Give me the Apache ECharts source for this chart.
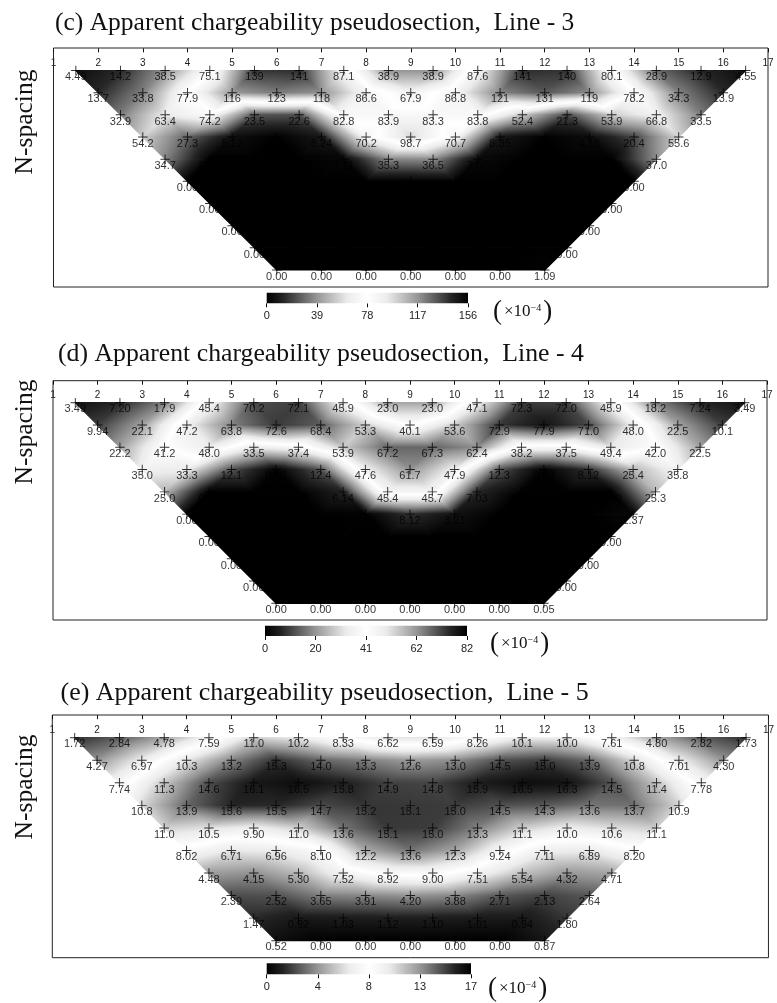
<!DOCTYPE html>
<html><head><meta charset="utf-8">
<style>html,body{margin:0;padding:0;background:#fff}#c{width:777px;height:1003px}</style>
<script src="https://cdn.jsdelivr.net/npm/echarts@6/dist/echarts.min.js"></script>
</head><body><div id="c"></div>
<script>
// Values, row by row (N = 1..10). Values hidden by dark shading are estimates.
const electrodes = [1,2,3,4,5,6,7,8,9,10,11,12,13,14,15,16,17];
const lineC = [
 [4.49,14.2,38.5,75.1,139,141,87.1,38.9,38.9,87.6,141,140,80.1,28.9,12.9,4.55],
 [13.7,33.8,77.9,116,123,118,86.6,67.9,86.8,121,131,119,78.2,34.3,13.9],
 [32.9,63.4,74.2,23.5,22.6,82.8,83.9,83.3,83.8,52.4,21.3,53.9,66.8,33.5],
 [54.2,27.3,5.12,0.31,8.24,70.2,98.7,70.7,8.35,0.42,4.18,20.4,55.6],
 [34.7,0.00,0.00,0.00,2.11,35.3,36.5,3.02,0.00,0.00,0.00,37.0],
 [0.00,0.00,0.00,0.00,0.00,0.00,0.00,0.00,0.00,0.00,0.00],
 [0.00,0.00,0.00,0.00,0.00,0.00,0.00,0.00,0.00,0.00],
 [0.00,0.00,0.00,0.00,0.00,0.00,0.00,0.00,0.00],
 [0.00,0.00,0.00,0.00,0.00,0.00,0.00,0.00],
 [0.00,0.00,0.00,0.00,0.00,0.00,1.09]
];
const lineD = [
 [3.49,7.20,17.9,45.4,70.2,72.1,45.9,23.0,23.0,47.1,72.3,72.0,45.9,18.2,7.24,3.49],
 [9.94,22.1,47.2,63.8,72.6,68.4,53.3,40.1,53.6,72.9,77.9,71.0,48.0,22.5,10.1],
 [22.2,41.2,48.0,33.5,37.4,53.9,67.2,67.3,62.4,38.2,37.5,49.4,42.0,22.5],
 [35.0,33.3,12.1,0.52,12.4,47.6,61.7,47.9,12.3,0.48,8.12,25.4,35.8],
 [25.0,0.00,0.00,0.00,6.14,45.4,45.7,7.03,0.00,0.00,0.00,25.3],
 [0.00,0.00,0.00,0.00,0.30,8.12,3.21,0.00,0.00,0.00,1.37],
 [0.00,0.00,0.00,0.00,0.00,0.00,0.00,0.00,0.00,0.00],
 [0.00,0.00,0.00,0.00,0.00,0.00,0.00,0.00,0.00],
 [0.00,0.00,0.00,0.00,0.00,0.00,0.00,0.00],
 [0.00,0.00,0.00,0.00,0.00,0.00,0.05]
];
const lineE = [
 [1.72,2.84,4.78,7.59,11.0,10.2,8.33,6.62,6.59,8.26,10.1,10.0,7.61,4.80,2.82,1.73],
 [4.27,6.97,10.3,13.2,15.3,14.0,13.3,12.6,13.0,14.5,15.0,13.9,10.8,7.01,4.30],
 [7.74,11.3,14.6,16.1,16.5,15.8,14.9,14.8,15.9,16.5,16.3,14.5,11.4,7.78],
 [10.8,13.9,15.6,15.5,14.7,15.2,15.1,15.0,14.5,14.3,13.6,13.7,10.9],
 [11.0,10.5,9.90,11.0,13.6,15.1,15.0,13.3,11.1,10.0,10.6,11.1],
 [8.02,6.71,6.96,8.10,12.2,13.6,12.3,9.24,7.11,6.89,8.20],
 [4.48,4.15,5.30,7.52,8.92,9.00,7.51,5.54,4.32,4.71],
 [2.39,2.52,3.65,3.91,4.20,3.88,2.71,2.13,2.64],
 [1.47,0.92,1.03,1.12,1.10,1.01,0.94,1.80],
 [0.52,0.00,0.00,0.00,0.00,0.00,0.87]
];
const scaleMaxes = [156, 82, 17];
const scaleTicks = [['0','39','78','117','156'],['0','20','41','62','82'],['0','4','8','13','17']];
const panelTitles = [
 '(c) Apparent chargeability pseudosection,  Line - 3',
 '(d) Apparent chargeability pseudosection,  Line - 4',
 '(e) Apparent chargeability pseudosection,  Line - 5'
];
const panelData = [lineC, lineD, lineE];
// Grey ramp of the scale bars: position along the scale, grey level
const rampPos = [0,0.08,0.25,0.4,0.5,0.6,0.75,0.92,1];
const rampGrey = [0,35,150,235,255,235,150,35,0];

// Layout, in pixels
const frames = [
 {l:53.5,r:768,t:48,b:287,top0:70.5,bot:270,   bl:266.7,br:468,bt:292.7,bb:303.3, tx:55,ty:10, fs:25.5, sy:122, ux:491,uy:312},
 {l:53,r:767,t:380.7,b:620,top0:402.7,bot:603.3,bl:265,br:467,bt:625.7,bb:636,   tx:58,ty:341,fs:25.75,sy:432, ux:488,uy:644},
 {l:52.3,r:775,t:715,b:957.7,top0:737.7,bot:940.7,bl:266.7,br:471,bt:963.3,bb:974.3,tx:60.5,ty:680,fs:25.95,sy:787, ux:486,uy:989}
];

function rampRGB(v,max){
  const t=Math.max(0,Math.min(1,v/max));
  let i=0;
  while(i<rampPos.length-2&&t>rampPos[i+1]) i++;
  const f=(t-rampPos[i])/(rampPos[i+1]-rampPos[i]);
  const g=Math.round(rampGrey[i]+f*(rampGrey[i+1]-rampGrey[i]));
  return 'rgb('+g+','+g+','+g+')';
}
function triangles(rows){
  const out=[];
  const px=(r,i)=>1.5+r/2+i;
  rows.forEach((row,r)=>{
    const next=rows[r+1]; if(!next) return;
    for(let i=0;i<row.length-1;i++){
      out.push([px(r,i),r+1,row[i],px(r,i+1),r+1,row[i+1],px(r+1,i),r+2,next[i]]);
      if(i<next.length-1) out.push([px(r+1,i),r+2,next[i],px(r+1,i+1),r+2,next[i+1],px(r,i+1),r+1,row[i+1]]);
    }
  });
  return out;
}
function points(rows){
  const out=[];
  rows.forEach((row,r)=>row.forEach((v,i)=>out.push([1.5+r/2+i,r+1,v])));
  return out;
}
function fmt(v){ return v>=100?String(Math.round(v)):(v>=10?v.toFixed(1):v.toFixed(2)); }

function triRender(max){
  return function(params,api){
    const P=[0,3,6].map(k=>api.coord([api.value(k),api.value(k+1)]));
    const V=[api.value(2),api.value(5),api.value(8)];
    const dx1=P[1][0]-P[0][0],dy1=P[1][1]-P[0][1],dx2=P[2][0]-P[0][0],dy2=P[2][1]-P[0][1];
    const det=dx1*dy2-dx2*dy1, dv1=V[1]-V[0], dv2=V[2]-V[0];
    const gx=(dv1*dy2-dv2*dy1)/det, gy=(dx1*dv2-dx2*dv1)/det, g2=gx*gx+gy*gy;
    const lo=Math.min.apply(null,V), hi=Math.max.apply(null,V);
    let fill;
    if(g2<1e-12){ fill=rampRGB(V[0],max); }
    else{
      const a=P[V.indexOf(lo)], k=(hi-lo)/g2;
      const stops=[{offset:0,color:rampRGB(lo,max)}];
      rampPos.forEach(q=>{
        const m=q*max;
        if(m>lo&&m<hi) stops.push({offset:(m-lo)/(hi-lo),color:rampRGB(m,max)});
      });
      stops.push({offset:1,color:rampRGB(hi,max)});
      fill=new echarts.graphic.LinearGradient(a[0],a[1],a[0]+gx*k,a[1]+gy*k,stops,true);
    }
    return {type:'polygon',shape:{points:P},style:{fill:fill,stroke:fill,lineWidth:1.2,lineJoin:'round'},silent:true};
  };
}

const PLUS='path://M4.5 0H5.5V4.5H10V5.5H5.5V10H4.5V5.5H0V4.5H4.5Z';
const grid=[],xAxis=[],yAxis=[],series=[],title=[],graphic=[];
frames.forEach((f,p)=>{
  const rows=panelData[p], max=scaleMaxes[p], ticks=scaleTicks[p];
  const step=(f.bot-f.top0)/9;
  const yMin=1-(f.top0-f.t)/step, yMax=10+(f.b-f.bot)/step;
  const gi=grid.length;
  grid.push({left:f.l,top:f.t,width:f.r-f.l,height:f.b-f.t,show:true,borderColor:'#222',borderWidth:1,backgroundColor:'transparent',containLabel:false});
  xAxis.push({type:'value',gridIndex:gi,position:'top',min:1,max:17,interval:1,
    axisLine:{show:false},splitLine:{show:false},
    axisTick:{show:true,inside:true,length:4,lineStyle:{color:'#111'}},
    axisLabel:{show:true,inside:true,margin:10,color:'#222',fontSize:10,fontFamily:'Liberation Sans',
      formatter:v=>String(electrodes[v-1]),showMinLabel:true,showMaxLabel:true,hideOverlap:false}});
  yAxis.push({type:'value',gridIndex:gi,inverse:true,min:yMin,max:yMax,show:false});
  series.push({type:'custom',name:'field'+p,xAxisIndex:gi,yAxisIndex:gi,coordinateSystem:'cartesian2d',clip:false,animation:false,silent:true,z:1,
    renderItem:triRender(max),data:triangles(rows),encode:{x:[0,3,6],y:[1,4,7]}});
  series.push({type:'scatter',name:'points'+p,xAxisIndex:gi,yAxisIndex:gi,clip:false,animation:false,silent:true,z:3,
    symbol:PLUS,symbolSize:9.5,itemStyle:{color:'#000'},data:points(rows),
    label:{show:true,position:'bottom',distance:-3.5,fontSize:11,fontFamily:'Liberation Sans',color:'#000',
      formatter:q=>fmt(q.value[2])},labelLayout:{hideOverlap:false}});
  // colour scale
  const bi=grid.length;
  grid.push({left:f.bl,top:f.bt,width:f.br-f.bl,height:f.bb-f.bt,show:false});
  xAxis.push({type:'value',gridIndex:bi,min:0,max:max,interval:max/4,
    axisLine:{show:false},splitLine:{show:false},
    axisTick:{show:true,length:4,lineStyle:{color:'#111'}},
    axisLabel:{show:true,margin:7,color:'#222',fontSize:11,fontFamily:'Liberation Sans',hideOverlap:false,
      showMinLabel:true,showMaxLabel:true,
      formatter:v=>ticks[Math.round(v/(max/4))]}});
  yAxis.push({type:'value',gridIndex:bi,min:0,max:1,show:false});
  series.push({type:'custom',name:'scale'+p,xAxisIndex:bi,yAxisIndex:bi,animation:false,silent:true,z:1,
    data:[[0,max]],encode:{x:[0,1]},
    renderItem:function(params,api){
      const a=api.coord([api.value(0),1]),b=api.coord([api.value(1),0]);
      return {type:'rect',shape:{x:a[0],y:a[1],width:b[0]-a[0],height:b[1]-a[1]},silent:true,
        style:{fill:new echarts.graphic.LinearGradient(0,0,1,0,rampPos.map(q=>({offset:q,color:rampRGB(q*max,max)})))}};
    }});
  title.push({text:panelTitles[p],left:f.tx,top:f.ty,padding:0,
    textStyle:{fontFamily:'Liberation Serif',fontWeight:'normal',fontSize:f.fs,color:'#111'}});
  graphic.push({type:'text',x:25,y:f.sy,rotation:Math.PI/2,z:5,
    style:{text:'N-spacing',font:'25.5px "Liberation Serif"',fill:'#111',textAlign:'center',textVerticalAlign:'middle'}});
  graphic.push({type:'text',x:f.ux,y:f.uy,z:5,
    style:{text:'{p|(}{t|\u00d710}{s|\u22124}{p|)}',textVerticalAlign:'middle',fill:'#111',
      rich:{p:{font:'27px "Liberation Serif"',fill:'#111',padding:[0,2,0,2]},
            t:{font:'17px "Liberation Serif"',fill:'#111'},
            s:{font:'10px "Liberation Serif"',fill:'#111',padding:[0,0,8,0]}}}});
});

const chart=echarts.init(document.getElementById('c'),null,{renderer:'canvas',width:777,height:1003});
chart.setOption({animation:false,backgroundColor:'#fff',tooltip:{show:false},legend:{show:false},
  title,grid,xAxis,yAxis,series,graphic});
</script></body></html>
